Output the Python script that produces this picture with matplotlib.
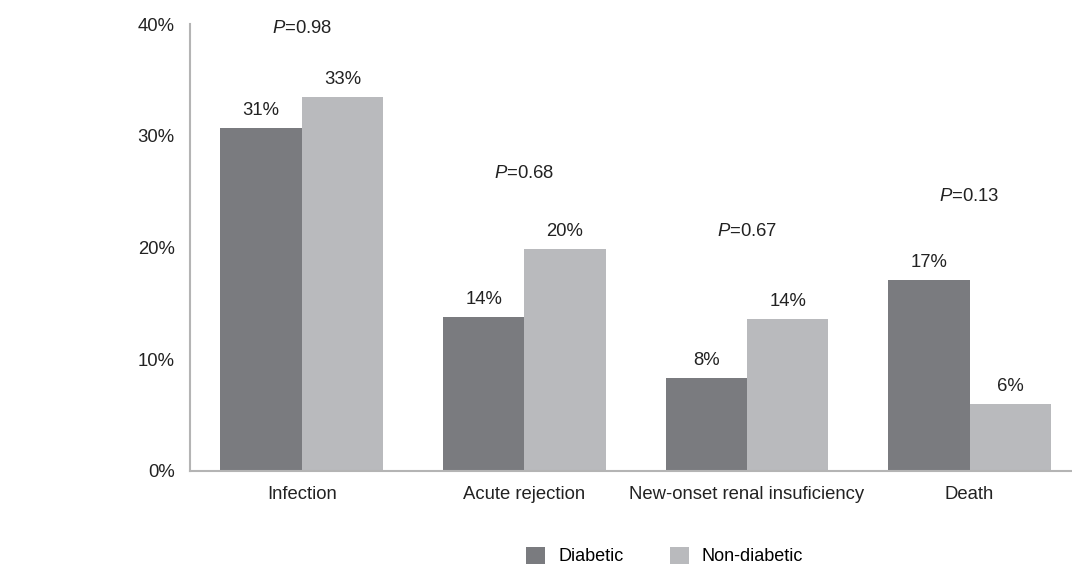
import numpy as np
import matplotlib
matplotlib.use("Agg")
import matplotlib.pyplot as plt

plt.rcParams["font.family"] = ["Liberation Sans", "DejaVu Sans"]
plt.rcParams["mathtext.fontset"] = "custom"
plt.rcParams["mathtext.it"] = "Liberation Sans:italic"
plt.rcParams["mathtext.rm"] = "Liberation Sans"

# Data
categories = ["Infection", "Acute rejection", "New-onset renal insuficiency", "Death"]
diabetic = [30.7, 13.8, 8.3, 17.1]
non_diabetic = [33.5, 19.9, 13.6, 6.0]
diabetic_labels = ["31%", "14%", "8%", "17%"]
non_diabetic_labels = ["33%", "20%", "14%", "6%"]
p_labels = ["0.98", "0.68", "0.67", "0.13"]
p_heights = [39.6, 26.6, 21.4, 24.6]

dark = "#7a7b7f"
light = "#b9babd"
axis_col = "#b4b4b4"
fs = 13.3

fig = plt.figure(figsize=(10.72, 5.64), dpi=100)
ax = fig.add_axes([0.1772, 0.165, 0.8228, 0.7924])

x = np.arange(len(categories))
w = 0.365

ax.bar(x - w / 2, diabetic, w, color=dark, label="Diabetic")
ax.bar(x + w / 2, non_diabetic, w, color=light, label="Non-diabetic")

for i in range(len(categories)):
    ax.text(x[i] - w / 2, diabetic[i] + 0.8, diabetic_labels[i],
            ha="center", va="bottom", fontsize=fs, color="#222222")
    ax.text(x[i] + w / 2, non_diabetic[i] + 0.8, non_diabetic_labels[i],
            ha="center", va="bottom", fontsize=fs, color="#222222")
    ax.text(x[i], p_heights[i], r"$P$=" + p_labels[i],
            ha="center", va="center", fontsize=fs, color="#222222")

ax.set_xlim(-0.502, 3.46)
ax.set_ylim(0, 40)
ax.set_yticks([0, 10, 20, 30, 40])
ax.set_yticklabels(["0%", "10%", "20%", "30%", "40%"])
ax.set_xticks(x)
ax.set_xticklabels(categories)
ax.tick_params(axis="both", length=0, labelsize=fs, colors="#222222")
ax.tick_params(axis="x", pad=11)
ax.tick_params(axis="y", pad=11)

for side in ["top", "right"]:
    ax.spines[side].set_visible(False)
ax.spines["left"].set_color(axis_col)
ax.spines["bottom"].set_color(axis_col)
ax.spines["left"].set_linewidth(1.5)
ax.spines["bottom"].set_linewidth(1.5)

fig.legend(loc="center", bbox_to_anchor=(0.62, 0.014), ncol=2, frameon=False,
           handlelength=1.05, handleheight=1.05, columnspacing=2.55,
           fontsize=13, handletextpad=0.72)

plt.savefig("out.png", dpi=100)
